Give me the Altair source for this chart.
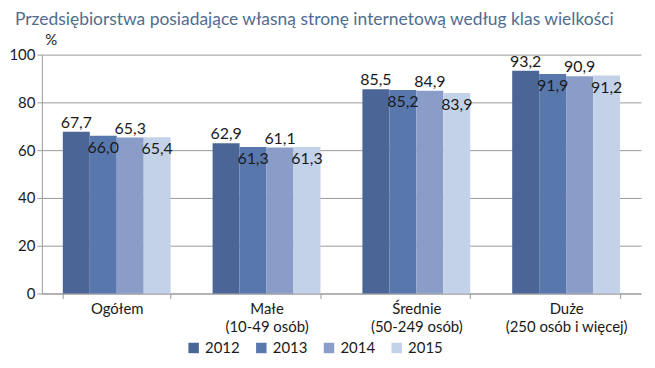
import altair as alt
import pandas as pd

categories = ["Ogółem", "Małe|(10-49 osób)", "Średnie|(50-249 osób)", "Duże|(250 osób i więcej)"]
years = ["2012", "2013", "2014", "2015"]
values = {
    "2012": [67.7, 62.9, 85.5, 93.2],
    "2013": [66.0, 61.3, 85.2, 91.9],
    "2014": [65.3, 61.1, 84.9, 90.9],
    "2015": [65.4, 61.3, 83.9, 91.2],
}
colors = ["#4b6596", "#5878ad", "#8a9dc8", "#c4d2e9"]

rows = []
for y in years:
    for c, v in zip(categories, values[y]):
        rows.append({"cat": c, "year": y, "v": v, "lab": f"{v:.1f}".replace(".", ",")})
df = pd.DataFrame(rows)

FONT = "Lato"

x = alt.X("cat:N", sort=categories, title=None,
          scale=alt.Scale(paddingInner=0.28, paddingOuter=0.14),
          axis=alt.Axis(labelExpr="split(datum.label, '|')", labelAngle=0,
                        tickBand="extent", labelFontSize=15, labelColor="#1a1a1a",
                        labelFont=FONT, domainColor="#999999", tickColor="#999999",
                        labelPadding=3, labelLineHeight=18))
xo = alt.XOffset("year:N", sort=years, scale=alt.Scale(paddingInner=0))
y = alt.Y("v:Q", scale=alt.Scale(domain=[0, 100]),
          axis=alt.Axis(values=[0, 20, 40, 60, 80, 100], title="%", titleAngle=0,
                        titleAlign="left", titleBaseline="bottom", titleX=3, titleY=-7,
                        titleFontSize=15, titleFontWeight="normal", titleFont=FONT,
                        titleColor="#1a1a1a",
                        labelFontSize=15, labelFont=FONT, labelColor="#1a1a1a",
                        gridColor="#999999", domainColor="#999999", tickColor="#999999",
                        tickSize=5))

bars = alt.Chart(df).mark_bar().encode(
    x=x, xOffset=xo, y=y,
    color=alt.Color("year:N", sort=years, scale=alt.Scale(domain=years, range=colors),
                    legend=alt.Legend(title=None, orient="none", direction="horizontal",
                                      legendX=145, legendY=287, symbolType="square",
                                      symbolSize=110, labelFontSize=15, labelFont=FONT,
                                      labelColor="#1a1a1a", columnPadding=14,
                                      symbolStrokeWidth=0)),
)

above = alt.Chart(df).transform_filter(
    "datum.year == '2012' || datum.year == '2014'"
).mark_text(baseline="bottom", dy=-1, fontSize=16, font=FONT, color="#1a1a1a").encode(
    x=alt.X("cat:N", sort=categories), xOffset=xo, y="v:Q", text="lab:N")

below = alt.Chart(df).transform_filter(
    "datum.year == '2013' || datum.year == '2015'"
).mark_text(baseline="top", dy=4, fontSize=16, font=FONT, color="#1a1a1a").encode(
    x=alt.X("cat:N", sort=categories), xOffset=xo, y="v:Q", text="lab:N")

chart = alt.layer(bars, above, below).properties(
    width=602, height=240,
    title=alt.TitleParams("Przedsiębiorstwa posiadające własną stronę internetową według klas wielkości",
                          anchor="start", fontSize=17.5, font=FONT, fontWeight="normal",
                          color="#4f6d8f", offset=4, frame="group", dx=-27),
    padding={"left": 0, "top": 2, "right": 6, "bottom": 0},
).configure_view(stroke=None)

chart.save("out.html", embed_options={"renderer": "svg", "actions": False})
